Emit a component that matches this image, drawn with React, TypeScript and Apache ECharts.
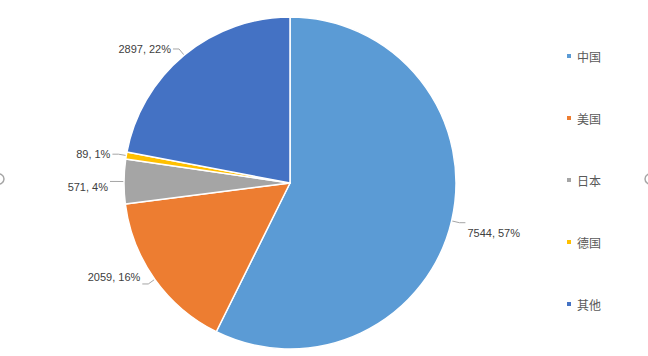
import React, { useEffect, useRef } from "react";
import * as echarts from "echarts";

const categories = ["中国", "美国", "日本", "德国", "其他"];
const values = [7544, 2059, 571, 89, 2897];
const colors = ["#5B9BD5", "#ED7D31", "#A5A5A5", "#FFC000", "#4472C4"];

export default function App() {
  const ref = useRef<HTMLDivElement>(null);
  useEffect(() => {
    if (!ref.current) return;
    const chart = echarts.init(ref.current, undefined, { renderer: "svg" });
    const total = values.reduce((a, b) => a + b, 0);
    const labelShift: Record<number, number> = { 0: 10, 1: -7, 2: 6 };
    chart.setOption({
      animation: false,
      backgroundColor: "#ffffff",
      color: colors,
      legend: {
        orient: "vertical",
        left: 560,
        top: 45,
        itemWidth: 6,
        itemHeight: 6,
        itemGap: 50,
        icon: "rect",
        data: categories,
        textStyle: {
          color: "#595959",
          fontSize: 12,
          fontFamily: "Noto Sans CJK SC",
        },
      },
      graphic: [
        { type: "circle", shape: { cx: -1, cy: 179, r: 5 }, style: { fill: "none", stroke: "#a6a6a6", lineWidth: 1.5 } },
        { type: "circle", shape: { cx: 650, cy: 179, r: 5 }, style: { fill: "none", stroke: "#a6a6a6", lineWidth: 1.5 } },
      ],
      series: [
        {
          type: "pie",
          center: [290, 183],
          radius: 166,
          startAngle: 90,
          clockwise: true,
          avoidLabelOverlap: true,
          data: categories.map((c, i) => ({ name: c, value: values[i] })),
          itemStyle: { borderColor: "#ffffff", borderWidth: 1.5 },
          label: {
            show: true,
            position: "outside",
            color: "#404040",
            fontSize: 11,
            fontFamily: "Liberation Sans",
            formatter: (p: any) => `${p.value}, ${Math.round((p.value / total) * 100)}%`,
            distanceToLabelLine: 2,
          },
          labelLayout: (p: any) => (labelShift[p.dataIndex] ? { dy: labelShift[p.dataIndex] } : {}),
          labelLine: {
            show: true,
            length: 8,
            length2: 6,
            lineStyle: { color: "#a6a6a6", width: 1 },
          },
        },
      ],
    });
    return () => chart.dispose();
  }, []);
  return <div ref={ref} style={{ position: "fixed", left: 0, top: 0, width: 648, height: 356 }} />;
}
